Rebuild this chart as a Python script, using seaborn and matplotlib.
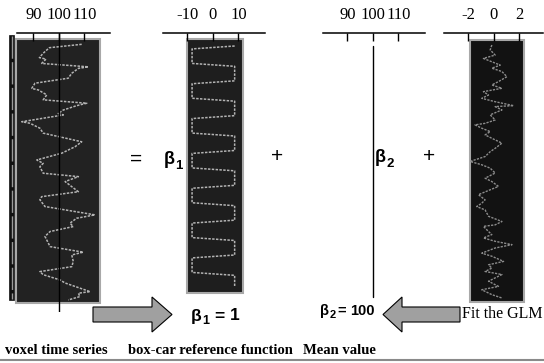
import numpy as np
import pandas as pd
import matplotlib
matplotlib.use("Agg")
import matplotlib.pyplot as plt
from matplotlib.patches import Rectangle, Polygon
import seaborn as sns

# ---------------- data ----------------
# voxel time series: scan index, signal value
voxel_time = [0.1, 1.2, 3.0, 4.4, 4.9, 6.3, 7.4, 7.9, 9.5, 11.1, 12.7, 14.4, 14.9, 16.5,
              18.1, 19.2, 20.0, 21.4, 22.5, 23.0, 25.2, 25.7, 27.3, 28.9, 31.7, 33.3,
              35.4, 37.6, 38.7, 39.8, 41.9, 43.0, 44.6, 47.9, 49.5, 50.5, 52.7, 55.4,
              56.5, 58.1, 59.2, 60.8, 62.4, 65.7, 67.5, 68.4, 70.5, 72.2, 73.8, 74.8,
              76.5, 77.5, 80.3, 80.8, 81.9, 83.0]
voxel_value = [108.9, 96.2, 93.8, 92.3, 94.9, 93.2, 111.5, 107.6, 105.0, 103.6, 90.6,
               89.3, 91.9, 95.2, 93.8, 110.9, 106.9, 101.7, 99.7, 101.7, 85.4, 88.6,
               92.5, 93.8, 108.9, 106.3, 101.1, 91.3, 93.8, 92.5, 93.8, 107.6, 102.4,
               107.6, 93.2, 92.5, 94.5, 114.1, 106.9, 104.3, 105.6, 96.5, 94.5, 96.5,
               109.5, 105.0, 105.6, 105.0, 92.5, 93.8, 100.4, 102.4, 112.2, 107.6,
               108.2, 103.6]

# box-car reference function, one value per scan (84 scans)
boxcar_value = [
    8.5,
    -8.2, -8.2, -8.2, -8.2, -8.2, -8.2, 8.5, 8.5, 8.5, 8.5, 8.5, 8.5,
    -8.2, -8.2, -8.2, -8.2, -8.2, -8.2, 8.5, 8.5, 8.5, 8.5, 8.5, 8.5,
    -8.2, -8.2, -8.2, -8.2, -8.2, -8.2, 8.5, 8.5, 8.5, 8.5, 8.5, 8.5,
    -8.2, -8.2, -8.2, -8.2, -8.2, -8.2, 8.5, 8.5, 8.5, 8.5, 8.5, 8.5,
    -8.2, -8.2, -8.2, -8.2, -8.2, -8.2, 8.5, 8.5, 8.5, 8.5, 8.5, 8.5,
    -8.2, -8.2, -8.2, -8.2, -8.2, -8.2, 8.5, 8.5, 8.5, 8.5, 8.5, 8.5,
    -8.2, -8.2, -8.2, -8.2, -8.2, -8.2, 8.5, 8.5, 8.5, 8.5, 8.5,
]
boxcar_time = list(range(len(boxcar_value)))

# mean value
beta1 = 1
beta2 = 100
mean_time = [0, 83]
mean_value = [beta2, beta2]

# residual error
error_time = [0.0, 1.6, 3.3, 4.4, 5.5, 6.6, 7.6, 8.7, 10.4, 12.0, 13.1, 14.2, 15.3, 16.4,
              17.5, 18.6, 19.9, 20.2, 21.3, 22.9, 24.6, 25.7, 26.2, 27.3, 28.4, 29.5,
              30.6, 32.2, 33.9, 35.0, 36.6, 38.2, 39.3, 40.4, 42.0, 43.7, 44.8, 46.4,
              47.5, 49.1, 50.8, 51.9, 53.0, 54.1, 56.2, 57.9, 59.0, 59.5, 61.2, 62.2,
              63.3, 64.4, 65.5, 66.6, 68.3, 69.3, 71.0, 72.1, 73.2, 74.3, 75.3, 77.5,
              79.2, 80.3, 81.9, 83.0]
error_value = [-0.13, -0.26, 0.13, -0.79, -0.13, 0.53, -0.13, 0.66, 1.05, 0.39, -0.13,
               0.66, -0.79, -0.39, -0.92, 0.13, 1.58, 0.13, 0.66, -0.26, 0.13, -0.66,
               -1.45, -0.92, -0.26, -0.66, -0.13, 0.66, 0.13, -0.26, -0.66, -1.84, -0.92,
               -0.26, 0.13, -0.66, -0.13, 0.39, -0.26, -1.18, -0.66, -0.92, -1.32, -0.66,
               -0.39, 0.66, 0.13, -0.79, -0.39, -0.13, -0.79, 0.13, 1.45, 0.13, -0.92,
               -0.13, 0.79, -0.39, -0.13, -0.66, 0.66, -0.39, 0.39, -0.92, -0.13, 0.66]

voxel_ticks = [90, 100, 110]
boxcar_ticks = [-10, 0, 10]
mean_ticks = [90, 100, 110]
error_ticks = [-2, 0, 2]

bottom_labels = ["voxel time series", "box-car reference function", "Mean value"]

# ---------------- figure ----------------
sns.set_theme(style="white")
plt.rcParams['font.family'] = ['Liberation Serif', 'DejaVu Sans']

W, H = 544, 363
fig = plt.figure(figsize=(W / 100, H / 100), dpi=100)
fig.patch.set_facecolor("white")


def fx(x):
    return x / W


def fy(y):
    return 1 - y / H


def panel(x0, x1, y0, y1, xlim, ylim, ticks):
    ax = fig.add_axes([fx(x0), fy(y1), (x1 - x0) / W, (y1 - y0) / H])
    ax.set_xlim(*xlim)
    ax.set_ylim(*ylim)
    ax.patch.set_visible(False)
    for s in ["left", "right", "bottom"]:
        ax.spines[s].set_visible(False)
    ax.spines["top"].set_visible(True)
    ax.spines["top"].set_color("black")
    ax.spines["top"].set_linewidth(1.1)
    ax.xaxis.tick_top()
    ax.set_xticks(ticks)
    ax.set_xticklabels([str(t) for t in ticks])
    ax.tick_params(axis="x", which="both", top=True, bottom=False, direction="in",
                   length=6, width=1, color="black", pad=7, labelsize=12,
                   labelcolor="black")
    ax.set_yticks([])
    ax.grid(False)
    return ax


def finish(ax):
    ax.set_xlabel("")
    ax.set_ylabel("")
    for lab in ax.get_xticklabels():
        lab.set_fontfamily("Liberation Serif")


def rect(x0, y0, x1, y1, fc, ec="#a8a8a8", lw=1.5):
    fig.add_artist(Rectangle((fx(x0), fy(y1)), (x1 - x0) / W, (y1 - y0) / H,
                             transform=fig.transFigure, facecolor=fc, edgecolor=ec,
                             linewidth=lw, zorder=-1))


# dark backgrounds
rect(16, 39, 100, 303, "#222222")
rect(187, 39, 243, 293, "#1e1e1e")
rect(470, 40, 524, 302, "#121212")
# left strip next to voxel panel
rect(9, 35, 14, 300, "#111111", ec="#111111", lw=0.5)
fig.add_artist(plt.Line2D([fx(11.5), fx(11.5)], [fy(36), fy(299)], transform=fig.transFigure,
                          color="#9a9a9a", lw=1.0, linestyle=(0, (16, 2.5)), zorder=-0.5))

line_kw = dict(sort=False, estimator=None, legend=False)

# voxel panel
ax1 = panel(17, 110, 33, 312, (83.53, 120.0), (86.9, -3.57), voxel_ticks)
df1 = pd.DataFrame({"t": voxel_time, "v": voxel_value})
sns.lineplot(data=df1, x="v", y="t", ax=ax1, color="#b4b4b4", lw=1.1,
             linestyle=(0, (1.6, 0.9)), **line_kw)
ax1.axvline(100, color="black", lw=1.0)
finish(ax1)

# box-car panel
ax2 = panel(163, 265, 33, 300, (-19.6, 20.4), (87.5, -4.48), boxcar_ticks)
df2 = pd.DataFrame({"t": boxcar_time, "v": boxcar_value})
sns.lineplot(data=df2, x="v", y="t", ax=ax2, color="#b4b4b4", lw=1.1,
             linestyle=(0, (1.6, 0.9)), **line_kw)
finish(ax2)

# mean-value panel
ax3 = panel(323, 425, 33, 300, (80.4, 120.4), (84.0, -4.3), mean_ticks)
df3 = pd.DataFrame({"t": mean_time, "v": mean_value})
sns.lineplot(data=df3, x="v", y="t", ax=ax3, color="black", lw=1.0, **line_kw)
finish(ax3)

# error panel
ax4 = panel(444, 543, 33, 305, (-3.88, 3.88), (85.3, -3.94), error_ticks)
df4 = pd.DataFrame({"t": error_time, "v": error_value})
sns.lineplot(data=df4, x="v", y="t", ax=ax4, color="#8c8c8c", lw=1.0,
             linestyle=(0, (1.6, 0.9)), **line_kw)
finish(ax4)

# ---------------- equation symbols ----------------
sans = ["Liberation Sans", "DejaVu Sans"]


def t(x, y, s, size, ha="left", weight="bold", family=None):
    fig.text(fx(x), fy(y), s, fontsize=size, ha=ha, va="center", fontweight=weight,
             family=family or sans, color="black")


t(136, 159, "=", 15, ha="center", weight="normal")
t(164, 160, "β", 13)
t(175.5, 166, "1", 9.5)
t(277, 156, "+", 15, ha="center", weight="normal")
t(375, 158, "β", 13)
t(386.5, 164, "2", 9.5)
t(429, 156, "+", 15, ha="center", weight="normal")

# beta estimates
t(191, 316, "β", 12.5)
t(202.5, 321, str(beta1), 9)
t(214, 316, "=", 12.5)
t(230, 316, str(beta1), 12.5)
t(320, 311, "β", 10.5)
t(329.5, 315, "2", 8)
t(337, 311, "=", 10.5)
t(350, 311, str(beta2), 10.5)

t(462, 314, "Fit the GLM", 11.5, weight="normal", family=["Liberation Serif"])

# ---------------- arrows ----------------
right_arrow = [(93, 307), (152, 307), (152, 297), (172, 314.5), (152, 332), (152, 322), (93, 322)]
left_arrow = [(460, 307), (402, 307), (402, 297), (383, 314.5), (402, 332), (402, 322), (460, 322)]
for pts in (right_arrow, left_arrow):
    fig.add_artist(Polygon([(fx(x), fy(y)) for x, y in pts], closed=True,
                           transform=fig.transFigure, facecolor="#a0a0a0",
                           edgecolor="black", linewidth=0.8))

# ---------------- bottom labels ----------------
for x, s in zip([5, 128, 303], bottom_labels):
    fig.text(fx(x), fy(350), s, fontsize=10.5, fontweight="bold", ha="left", va="center",
             family=["Liberation Serif"], color="black")
fig.add_artist(plt.Line2D([0, 1], [fy(359.5), fy(359.5)], transform=fig.transFigure,
                          color="#8a8a8a", lw=1.5))

fig.savefig("out.png", dpi=100)
